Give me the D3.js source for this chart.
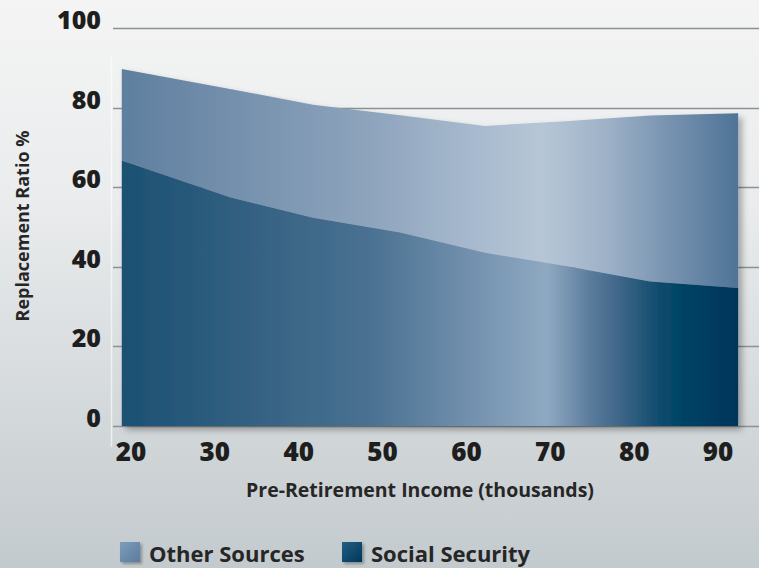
<!DOCTYPE html>
<html>
<head>
<meta charset="utf-8">
<script src="https://cdn.jsdelivr.net/npm/d3@7"></script>
<style>
  html, body { margin: 0; padding: 0; }
  body { width: 759px; height: 568px; overflow: hidden; }
  svg { display: block; }
</style>
</head>
<body>
<svg id="chart" width="759" height="568"></svg>
<script>
// Pre-retirement income (thousands of dollars) at each sampled point
const income = [18.9, 31.8, 41.7, 52.1, 62.2, 71.8, 81.9, 92.4];
// Replacement ratio (%) contributed by each income source
const socialSecurity = [66.7, 57.5, 52.3, 48.6, 43.5, 40.2, 36.3, 34.7];
const otherSources   = [23.0, 27.2, 28.4, 29.5, 31.9, 36.4, 41.7, 43.9];
// Axis ticks
const xTicks = [20, 30, 40, 50, 60, 70, 80, 90];
const yTicks = [0, 20, 40, 60, 80, 100];
const seriesNames = ["Social Security", "Other Sources"];
const legendOrder = ["Other Sources", "Social Security"];

const W = 759, H = 568;
const svg = d3.select("#chart");
const defs = svg.append("defs");

const x = d3.scaleLinear().domain([20, 90]).range([131, 718]);
const y = d3.scaleLinear().domain([0, 100]).range([426, 28]);

// background wash
const bg = defs.append("linearGradient").attr("id", "bg")
  .attr("x1", 0).attr("y1", 0).attr("x2", 0).attr("y2", 1);
bg.append("stop").attr("offset", 0).attr("stop-color", "#f4f4f4");
bg.append("stop").attr("offset", 0.35).attr("stop-color", "#eaeced");
bg.append("stop").attr("offset", 1).attr("stop-color", "#c3cacd");
svg.append("rect").attr("width", W).attr("height", H).attr("fill", "url(#bg)");

// horizontal fills for the two bands
function hGrad(id, stops) {
  const g = defs.append("linearGradient").attr("id", id)
    .attr("gradientUnits", "userSpaceOnUse")
    .attr("x1", x(income[0])).attr("x2", x(income[income.length - 1]))
    .attr("y1", 0).attr("y2", 0);
  stops.forEach(([o, c]) => g.append("stop").attr("offset", o).attr("stop-color", c));
}
hGrad("gradSS", [
  [0, "#1b5173"], [0.127, "#2a5a7c"], [0.403, "#4a7191"], [0.549, "#6e8dab"],
  [0.69, "#8fa9c2"], [0.765, "#58799a"], [0.808, "#3e6688"], [0.873, "#0f4b6d"],
  [0.906, "#004466"], [1, "#00345a"]
]);
hGrad("gradOther", [
  [0, "#5f7f9f"], [0.403, "#8ea4bd"], [0.593, "#aabcd0"], [0.679, "#b6c6d6"],
  [0.711, "#b0c1d3"], [0.792, "#9cb0c6"], [0.873, "#7d97b3"], [1, "#4e7397"]
]);

// legend swatch fills
const lg1 = defs.append("linearGradient").attr("id", "legOther")
  .attr("x1", 0).attr("y1", 0).attr("x2", 1).attr("y2", 1);
lg1.append("stop").attr("offset", 0).attr("stop-color", "#7f9cbb");
lg1.append("stop").attr("offset", 1).attr("stop-color", "#5a7c9e");
const lg2 = defs.append("linearGradient").attr("id", "legSS")
  .attr("x1", 0).attr("y1", 0).attr("x2", 1).attr("y2", 1);
lg2.append("stop").attr("offset", 0).attr("stop-color", "#235e84");
lg2.append("stop").attr("offset", 1).attr("stop-color", "#00375a");
const legendFill = { "Other Sources": "url(#legOther)", "Social Security": "url(#legSS)" };

// soft shadow
const sh = defs.append("filter").attr("id", "shadow")
  .attr("x", "-10%").attr("y", "-10%").attr("width", "130%").attr("height", "130%");
sh.append("feDropShadow").attr("dx", 4).attr("dy", 4).attr("stdDeviation", 3)
  .attr("flood-color", "#000").attr("flood-opacity", 0.3);
const sh2 = defs.append("filter").attr("id", "shadowSm")
  .attr("x", "-30%").attr("y", "-30%").attr("width", "170%").attr("height", "170%");
sh2.append("feDropShadow").attr("dx", 2).attr("dy", 2).attr("stdDeviation", 1.5)
  .attr("flood-color", "#000").attr("flood-opacity", 0.3);

// faint vertical axis rule
svg.append("line")
  .attr("x1", 111.5).attr("x2", 111.5).attr("y1", 57).attr("y2", 447)
  .attr("stroke", "#ffffff").attr("stroke-opacity", 0.6).attr("stroke-width", 1.5);

// horizontal gridlines
svg.append("g").selectAll("line").data(yTicks).join("line")
  .attr("x1", 113).attr("x2", W)
  .attr("y1", d => Math.round(y(d)) + 0.5).attr("y2", d => Math.round(y(d)) + 0.5)
  .attr("stroke", "#8a9295").attr("stroke-width", 1.4);

// stacked areas
const table = income.map((v, i) => ({
  income: v, "Social Security": socialSecurity[i], "Other Sources": otherSources[i]
}));
const stacked = d3.stack().keys(seriesNames)(table);
const area = d3.area()
  .x(d => x(d.data.income))
  .y0(d => y(d[0]))
  .y1(d => y(d[1]));
const fills = { "Social Security": "url(#gradSS)", "Other Sources": "url(#gradOther)" };

const areaG = svg.append("g").attr("filter", "url(#shadow)");
areaG.selectAll("path").data(stacked.slice().reverse()).join("path")
  .attr("d", area)
  .attr("fill", d => fills[d.key]);

// y tick labels
svg.append("g").selectAll("text").data(yTicks).join("text")
  .attr("x", 101).attr("y", d => y(d) + 1)
  .attr("text-anchor", "end")
  .attr("font-family", "'Open Sans', sans-serif")
  .attr("font-weight", 800).attr("font-size", 25)
  .attr("fill", "#1e1e1e")
  .text(d => d);

// x tick labels
svg.append("g").selectAll("text").data(xTicks).join("text")
  .attr("x", d => x(d)).attr("y", 461)
  .attr("text-anchor", "middle")
  .attr("font-family", "'Open Sans', sans-serif")
  .attr("font-weight", 800).attr("font-size", 26)
  .attr("fill", "#1e1e1e")
  .text(d => d);

// axis titles
svg.append("text")
  .attr("x", 420).attr("y", 497)
  .attr("text-anchor", "middle")
  .attr("font-family", "'Open Sans', sans-serif")
  .attr("font-weight", 700).attr("font-size", 19.5)
  .attr("fill", "#262626")
  .text("Pre-Retirement Income (thousands)");

svg.append("text")
  .attr("transform", "translate(29,226) rotate(-90)")
  .attr("text-anchor", "middle")
  .attr("font-family", "'Open Sans', sans-serif")
  .attr("font-weight", 700).attr("font-size", 18)
  .attr("fill", "#262626")
  .text("Replacement Ratio %");

// legend
const legendX = { "Other Sources": 120, "Social Security": 342 };
const leg = svg.append("g").selectAll("g").data(legendOrder).join("g")
  .attr("transform", d => `translate(${legendX[d]},542)`);
leg.append("rect")
  .attr("width", 20).attr("height", 20)
  .attr("fill", d => legendFill[d])
  .attr("filter", "url(#shadowSm)");
leg.append("text")
  .attr("x", 29).attr("y", 19.5)
  .attr("font-family", "'Open Sans', sans-serif")
  .attr("font-weight", 700).attr("font-size", 22)
  .attr("fill", "#262626")
  .text(d => d);
</script>
</body>
</html>
